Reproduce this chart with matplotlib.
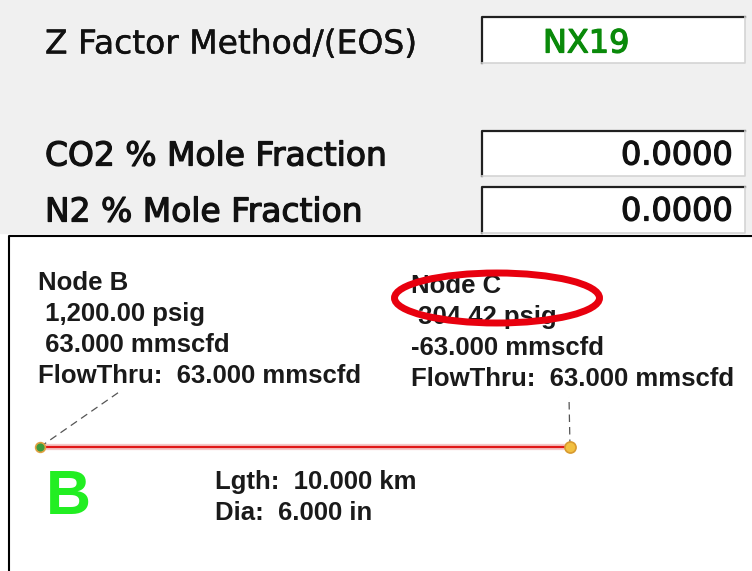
import matplotlib.pyplot as plt
import matplotlib.patheffects as pe
from matplotlib.patches import Rectangle, Ellipse

# gas properties panel
field_labels = ["Z Factor Method/(EOS)", "CO2 % Mole Fraction", "N2 % Mole Fraction"]
field_values = ["NX19", "0.0000", "0.0000"]

# pipe / node results
node_names = ["Node B", "Node C"]
node_psig = [1200.00, 304.42]
node_flow = [63.000, -63.000]
node_flowthru = [63.000, 63.000]
pipe_length_km = 10.000
pipe_dia_in = 6.000

W, H = 752, 571
fig = plt.figure(figsize=(W / 100, H / 100), dpi=100)
ax = fig.add_axes([0, 0, 1, 1])
ax.set_xlim(0, W)
ax.set_ylim(H, 0)
ax.axis("off")

# top dialog panel
ax.add_patch(Rectangle((0, 0), W, 233, color="#f0f0f0", zorder=0))
ui_font = "DejaVu Sans"
row_y = [44, 156, 212]
box_top = [17, 131, 187]
box_h = [46, 45, 46]
for i, lab in enumerate(field_labels):
    heavy = [pe.withStroke(linewidth=0.9 if i else 0.3, foreground="#111111")]
    ax.text(45, row_y[i], lab, family=ui_font, fontsize=23.7, color="#111111",
            va="center", ha="left", path_effects=heavy)
    x0, y0, bw, bh = 482, box_top[i], 263, box_h[i]
    ax.add_patch(Rectangle((x0, y0), bw, bh, facecolor="white", edgecolor="none", zorder=1))
    ax.plot([x0, x0, x0 + bw], [y0 + bh, y0, y0], color="#202020", lw=1.6, zorder=2)
    ax.plot([x0, x0 + bw, x0 + bw], [y0 + bh, y0 + bh, y0], color="#d4d4d4", lw=1.2, zorder=2)
    if i == 0:
        ax.text(543, row_y[i], field_values[i], family=ui_font, fontsize=23,
                color="#0a8a0a", va="center", ha="left", zorder=3,
                path_effects=[pe.withStroke(linewidth=0.9, foreground="#0a8a0a")])
    else:
        ax.text(733, row_y[i], field_values[i], family=ui_font, fontsize=23,
                color="#111111", va="center", ha="right", zorder=3,
                path_effects=[pe.withStroke(linewidth=0.9, foreground="#111111")])

# schematic panel border
ax.plot([9, 9, W], [H, 236, 236], color="black", lw=1.5)

# node text blocks
node_x = [38, 411]
node_y0 = [283, 286]
step = 31
txt_kw = dict(fontsize=18.5, weight="bold", family="Liberation Sans",
              va="center", ha="left", color="#1a1a1a")
for k in range(2):
    flow_txt = f"{node_flow[k]:.3f} mmscfd"
    if node_flow[k] >= 0:
        flow_txt = " " + flow_txt
    lines = [node_names[k],
             f" {node_psig[k]:,.2f} psig",
             flow_txt,
             f"FlowThru:  {node_flowthru[k]:.3f} mmscfd"]
    for j, s in enumerate(lines):
        ax.text(node_x[k], node_y0[k] + j * step, s, **txt_kw)

# pipe and nodes
pipe_x = [40, 570]
pipe_y = 447
ax.plot(pipe_x, [pipe_y, pipe_y], color="#f6c8c8", lw=4.5, solid_capstyle="round", zorder=3)
ax.plot(pipe_x, [pipe_y, pipe_y], color="#e01818", lw=1.6, zorder=4)
ax.plot([pipe_x[0], 122], [pipe_y, 390], color="#555555", lw=0.9, ls=(0, (6, 4)), zorder=3)
ax.plot([pipe_x[1], 569], [pipe_y, 397], color="#555555", lw=0.9, ls=(0, (6, 4)), zorder=3)
ax.plot(pipe_x[0], pipe_y, "o", ms=7, mfc="#3d9a3d", mec="#e0a040", mew=1.2, zorder=5)
ax.plot(pipe_x[1], pipe_y, "o", ms=8, mfc="#f2c040", mec="#d89a30", mew=1.2, zorder=5)

ax.text(46, 497, "B", fontsize=45, weight="bold", family="Liberation Sans",
        color="#22ee22", va="center", ha="left")
ax.text(215, 482, f"Lgth:  {pipe_length_km:.3f} km", **txt_kw)
ax.text(215, 513, f"Dia:  {pipe_dia_in:.3f} in", **txt_kw)

# highlight
ax.add_patch(Ellipse((497, 298), 205, 50, fill=False, edgecolor="#e8000e", lw=5, zorder=6))

fig.savefig("out.png", dpi=100)
